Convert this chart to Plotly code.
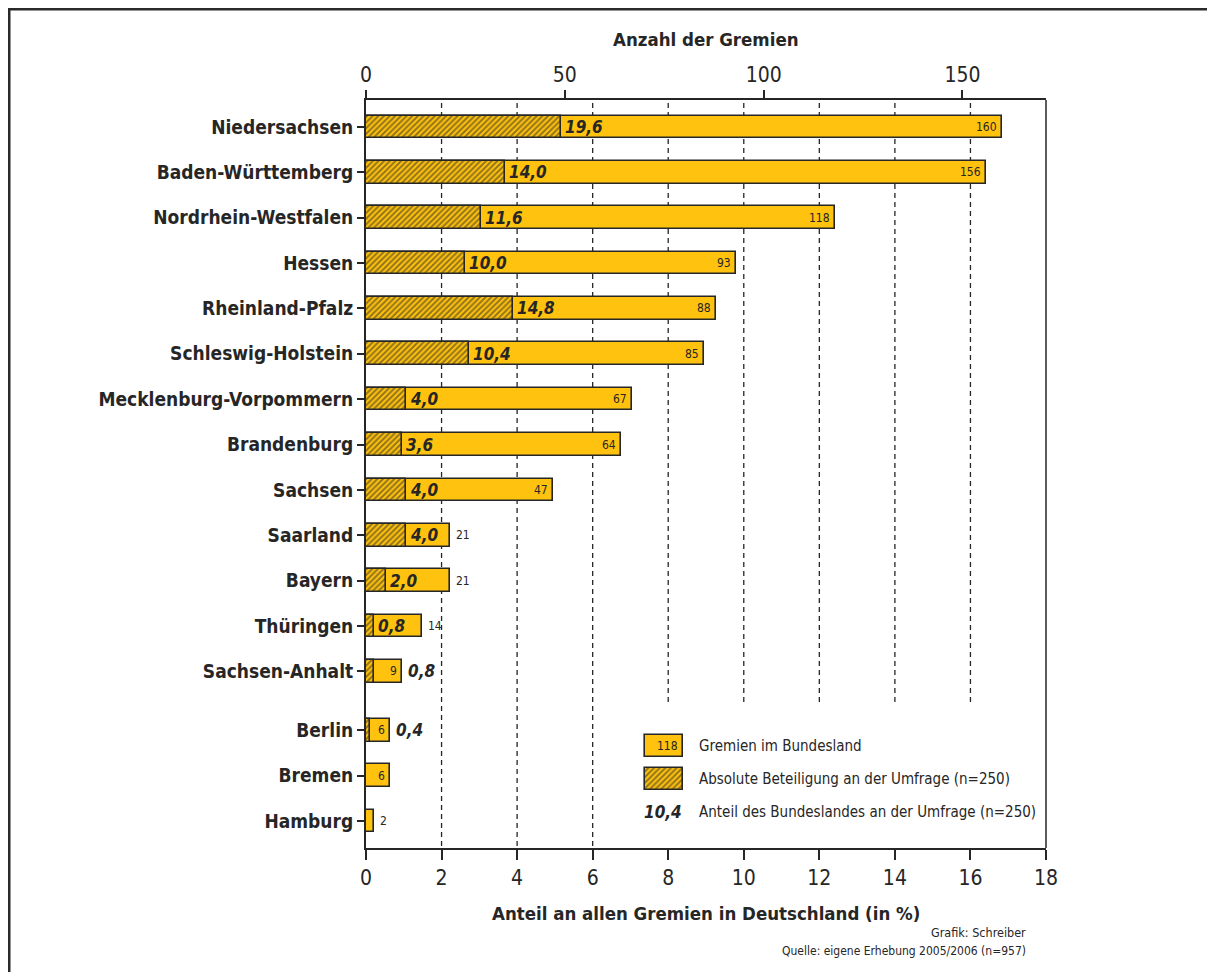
import plotly.graph_objects as go

# ---------------- data ----------------
states = ["Niedersachsen", "Baden-Württemberg", "Nordrhein-Westfalen", "Hessen",
          "Rheinland-Pfalz", "Schleswig-Holstein", "Mecklenburg-Vorpommern",
          "Brandenburg", "Sachsen", "Saarland", "Bayern", "Thüringen",
          "Sachsen-Anhalt", "Berlin", "Bremen", "Hamburg"]
gremien = [160, 156, 118, 93, 88, 85, 67, 64, 47, 21, 21, 14, 9, 6, 6, 2]
anteil_umfrage = [19.6, 14.0, 11.6, 10.0, 14.8, 10.4, 4.0, 3.6, 4.0, 4.0, 2.0,
                  0.8, 0.8, 0.4, None, None]
city_states = ["Berlin", "Bremen", "Hamburg"]
n_umfrage = 250
pct_ticks = [0, 2, 4, 6, 8, 10, 12, 14, 16, 18]
count_ticks = [0, 50, 100, 150]

# ---------------- styling ----------------
FONT = "DejaVu Sans Condensed, Liberation Sans Narrow, Arial Narrow, sans-serif"
DARK = "#262626"
YELLOW = "#FFC20E"
COUNT_MAX = 171.0
BODY = 8  # default page margin of the html body

ypos = [i + (0.3 if s in city_states else 0.0) for i, s in enumerate(states)]
beteiligung = [(a * n_umfrage / 100.0) if a else 0 for a in anteil_umfrage]

fig = go.Figure()

# invisible trace to activate bottom axis
fig.add_trace(go.Scatter(x=[0], y=[ypos[0]], xaxis="x", yaxis="y", mode="markers",
                         marker=dict(opacity=0), showlegend=False, hoverinfo="skip"))

hatch = dict(shape="/", fgcolor=DARK, bgcolor=YELLOW, size=4, solidity=0.5, fillmode="overlay")

fig.add_trace(go.Bar(
    y=ypos, x=gremien, orientation="h", xaxis="x2", yaxis="y", width=0.5,
    marker=dict(color=YELLOW, line=dict(color=DARK, width=1.6)),
    showlegend=False, hoverinfo="skip"))
fig.add_trace(go.Bar(
    y=ypos, x=beteiligung, orientation="h", xaxis="x2", yaxis="y", width=0.5,
    marker=dict(color=YELLOW, line=dict(color=DARK, width=1.6), pattern=hatch),
    showlegend=False, hoverinfo="skip"))

annotations = []
outside_count = ["Saarland", "Bayern", "Thüringen", "Hamburg"]
outside_share = ["Sachsen-Anhalt", "Berlin"]
share_font = dict(family=FONT, size=17, color=DARK, weight="bold", style="italic")
count_font = dict(family=FONT, size=12, color=DARK)

for s, y, g, b, a in zip(states, ypos, gremien, beteiligung, anteil_umfrage):
    if s in outside_count:
        annotations.append(dict(x=g, y=y, xref="x2", yref="y", text=str(g),
                                xanchor="left", xshift=4, showarrow=False, font=count_font))
    else:
        annotations.append(dict(x=g, y=y, xref="x2", yref="y", text=str(g),
                                xanchor="right", xshift=-3, showarrow=False, font=count_font))
    if a is not None:
        txt = f"{a:.1f}".replace(".", ",")
        if s in outside_share:
            annotations.append(dict(x=g, y=y, xref="x2", yref="y", text=txt,
                                    xanchor="left", xshift=4, showarrow=False, font=share_font))
        else:
            annotations.append(dict(x=b, y=y, xref="x2", yref="y", text=txt,
                                    xanchor="left", xshift=2, showarrow=False, font=share_font))


def px_x(px):
    return (px - 366) / 680.0


def px_y(py):
    return (848 - py) / 748.0


# axis titles
title_font = dict(family=FONT, size=18.5, color=DARK, weight="bold")
annotations.append(dict(x=0.5, y=px_y(40), xref="paper", yref="paper", text="Anzahl der Gremien",
                        showarrow=False, xanchor="center", yanchor="middle", font=title_font))
annotations.append(dict(x=0.5, y=px_y(913), xref="paper", yref="paper",
                        text="Anteil an allen Gremien in Deutschland (in %)",
                        showarrow=False, xanchor="center", yanchor="middle", font=title_font))
# source
src_font = dict(family=FONT, size=12.5, color=DARK)
annotations.append(dict(x=px_x(1028), y=px_y(932), xref="paper", yref="paper",
                        text="Grafik: Schreiber", showarrow=False, xanchor="right",
                        yanchor="middle", font=src_font))
annotations.append(dict(x=px_x(1028), y=px_y(951), xref="paper", yref="paper",
                        text="Quelle: eigene Erhebung 2005/2006 (n=957)", showarrow=False,
                        xanchor="right", yanchor="middle", font=dict(family=FONT, size=12, color=DARK)))

# legend (drawn manually)
fig.add_trace(go.Bar(
    y=[px_y(746)], x=[px_x(683) - px_x(645)], base=[px_x(645)], orientation="h",
    xaxis="x3", yaxis="y3", width=22 / 748.0,
    marker=dict(color=YELLOW, line=dict(color=DARK, width=1.6)),
    showlegend=False, hoverinfo="skip"))
fig.add_trace(go.Bar(
    y=[px_y(779)], x=[px_x(683) - px_x(645)], base=[px_x(645)], orientation="h",
    xaxis="x3", yaxis="y3", width=22 / 748.0,
    marker=dict(color=YELLOW, line=dict(color=DARK, width=1.6), pattern=hatch),
    showlegend=False, hoverinfo="skip"))
annotations.append(dict(x=px_x(680), y=px_y(746), xref="paper", yref="paper", text="118",
                        xanchor="right", yanchor="middle", showarrow=False, font=count_font))
annotations.append(dict(x=px_x(684), y=px_y(812), xref="paper", yref="paper", text="10,4",
                        xanchor="right", yanchor="middle", showarrow=False, font=share_font))
leg_font = dict(family=FONT, size=15, color=DARK)
for txt, py in [("Gremien im Bundesland", 746),
                ("Absolute Beteiligung an der Umfrage (n=250)", 779),
                ("Anteil des Bundeslandes an der Umfrage (n=250)", 812)]:
    annotations.append(dict(x=px_x(697), y=px_y(py), xref="paper", yref="paper", text=txt,
                            xanchor="left", yanchor="middle", showarrow=False, font=leg_font))

shapes = []
# dashed grid lines
for t in pct_ticks[1:-1]:
    y_end = 0.0 if t <= 6 else px_y(705)
    shapes.append(dict(type="line", xref="x", yref="paper", x0=t, x1=t, y0=px_y(103), y1=y_end,
                       line=dict(color=DARK, width=1.3, dash="5px,4px"), layer="below"))
# right frame line
shapes.append(dict(type="line", xref="paper", yref="paper", x0=1, x1=1, y0=0, y1=1,
                   line=dict(color=DARK, width=1.5)))
# outer border
shapes.append(dict(type="line", xref="paper", yref="paper", x0=px_x(9), x1=px_x(9),
                   y0=px_y(8), y1=px_y(990), line=dict(color="#2a2a2a", width=3)))
shapes.append(dict(type="line", xref="paper", yref="paper", x0=px_x(8), x1=px_x(1220),
                   y0=px_y(9), y1=px_y(9), line=dict(color="#2a2a2a", width=3)))

W, H = 1215 - 2 * BODY, 980 - 2 * BODY
fig.update_layout(
    width=W, height=H,
    margin=dict(l=366 - BODY, r=BODY + W - 1046, t=100 - BODY, b=BODY + H - 848),
    paper_bgcolor="white", plot_bgcolor="white",
    barmode="overlay", bargap=0,
    showlegend=False,
    font=dict(family=FONT, color=DARK),
    xaxis=dict(range=[0, 18], tickvals=pct_ticks, ticks="outside", ticklen=10, tickwidth=1.5,
               tickcolor=DARK, showline=True, linewidth=2, linecolor=DARK, showgrid=False,
               zeroline=False, tickfont=dict(family=FONT, size=21, color=DARK), fixedrange=True),
    xaxis2=dict(range=[0, COUNT_MAX], overlaying="x", side="top", tickvals=count_ticks,
                ticks="outside", ticklen=8, tickwidth=1.5, tickcolor=DARK, showline=True,
                linewidth=1.5, linecolor=DARK, showgrid=False, zeroline=False,
                tickfont=dict(family=FONT, size=21, color=DARK)),
    yaxis=dict(range=[ypos[-1] + 0.595, -0.595], tickvals=ypos, ticktext=states,
               ticks="outside", ticklen=7, tickwidth=1.5, tickcolor=DARK, showline=True,
               linewidth=2, linecolor=DARK, showgrid=False, zeroline=False,
               tickfont=dict(family=FONT, size=19, color=DARK, weight="bold")),
    xaxis3=dict(range=[0, 1], overlaying="x", visible=False),
    yaxis3=dict(range=[0, 1], overlaying="y", visible=False),
    annotations=annotations,
    shapes=shapes,
)

fig.write_html("out.html")
